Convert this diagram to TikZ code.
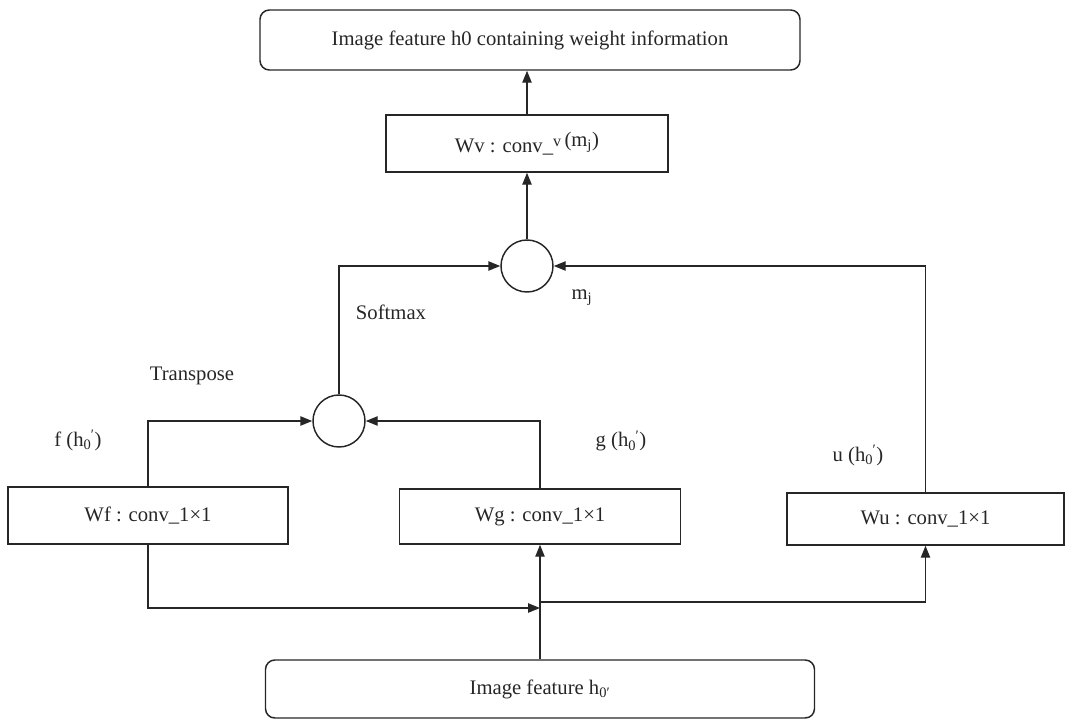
\documentclass[tikz,border=0pt]{standalone}
\usepackage{fontspec}
\setmainfont{Liberation Serif}
\usetikzlibrary{arrows.meta}
\newcommand{\hzp}{h\textsubscript{0}\kern-0.5pt\textsuperscript{′}}
\begin{document}
\begin{tikzpicture}[x=0.75pt,y=-0.75pt,
  line width=1.1pt, draw=black!85,
  every node/.style={font=\fontsize{15.5}{18}\selectfont, text=black!85},
  boxr/.style={draw, rounded corners=7pt, inner sep=0pt},
  boxs/.style={draw, inner sep=0pt},
  dot/.style={draw, circle, minimum size=39pt, inner sep=0pt},
  arr/.style={-{Triangle[length=9pt,width=7pt]}},
  lbl/.style={inner sep=0pt}]
\useasboundingbox (0,0) rectangle (1066,721);
\node[boxr, minimum width=405pt, minimum height=45pt] (top) at (530,40) {Image feature h0 containing weight information};
\node[boxs, minimum width=211.5pt, minimum height=42.75pt] (wv) at (527,143.5) {Wv : conv\_\raisebox{4pt}{{\fontsize{12}{14}\selectfont v}\,(m\textsubscript{j})}};
\node[dot] (c1) at (527,266) {};
\node[dot] (c2) at (339,421) {};
\node[boxs, minimum width=210pt, minimum height=42.75pt] (wf) at (148,515.5) {Wf : conv\_1×1};
\node[boxs, minimum width=210.75pt, minimum height=41.25pt] (wg) at (540,516.5) {Wg : conv\_1×1};
\node[boxs, minimum width=207.75pt, minimum height=39pt] (wu) at (925.5,519) {Wu : conv\_1×1};
\node[boxr, minimum width=411.75pt, minimum height=43.5pt] (bot) at (540,689) {Image feature h\textsubscript{0′}};
\coordinate (j1) at (540,608);
\coordinate (j2) at (540,602);
\draw[arr] (wv.north) -- (wv.north |- top.south);
\draw[arr] (c1.north) -- (wv.south);
\draw[arr] (c2.north) |- (c1.west);
\draw[arr] (wu.north) |- (c1.east);
\draw[arr] (wf.north) |- (c2.west);
\draw[arr] (wg.north) |- (c2.east);
\draw[arr] (bot.north) -- (wg.south);
\draw[arr] (wf.south) |- (j1);
\draw[arr] (j2) -| (wu.south);
\node[lbl] (tr) at (192,376) {Transpose};
\node[lbl] (sm) at (391,312) {Softmax};
\node[lbl] (mj) at (582,298) {m\textsubscript{j}};
\node[lbl] (fl) at (78,440) {f (\hzp)};
\node[lbl] (gl) at (621,441) {g (\hzp)};
\node[lbl] (ul) at (858,455) {u (\hzp)};
\end{tikzpicture}
\end{document}
